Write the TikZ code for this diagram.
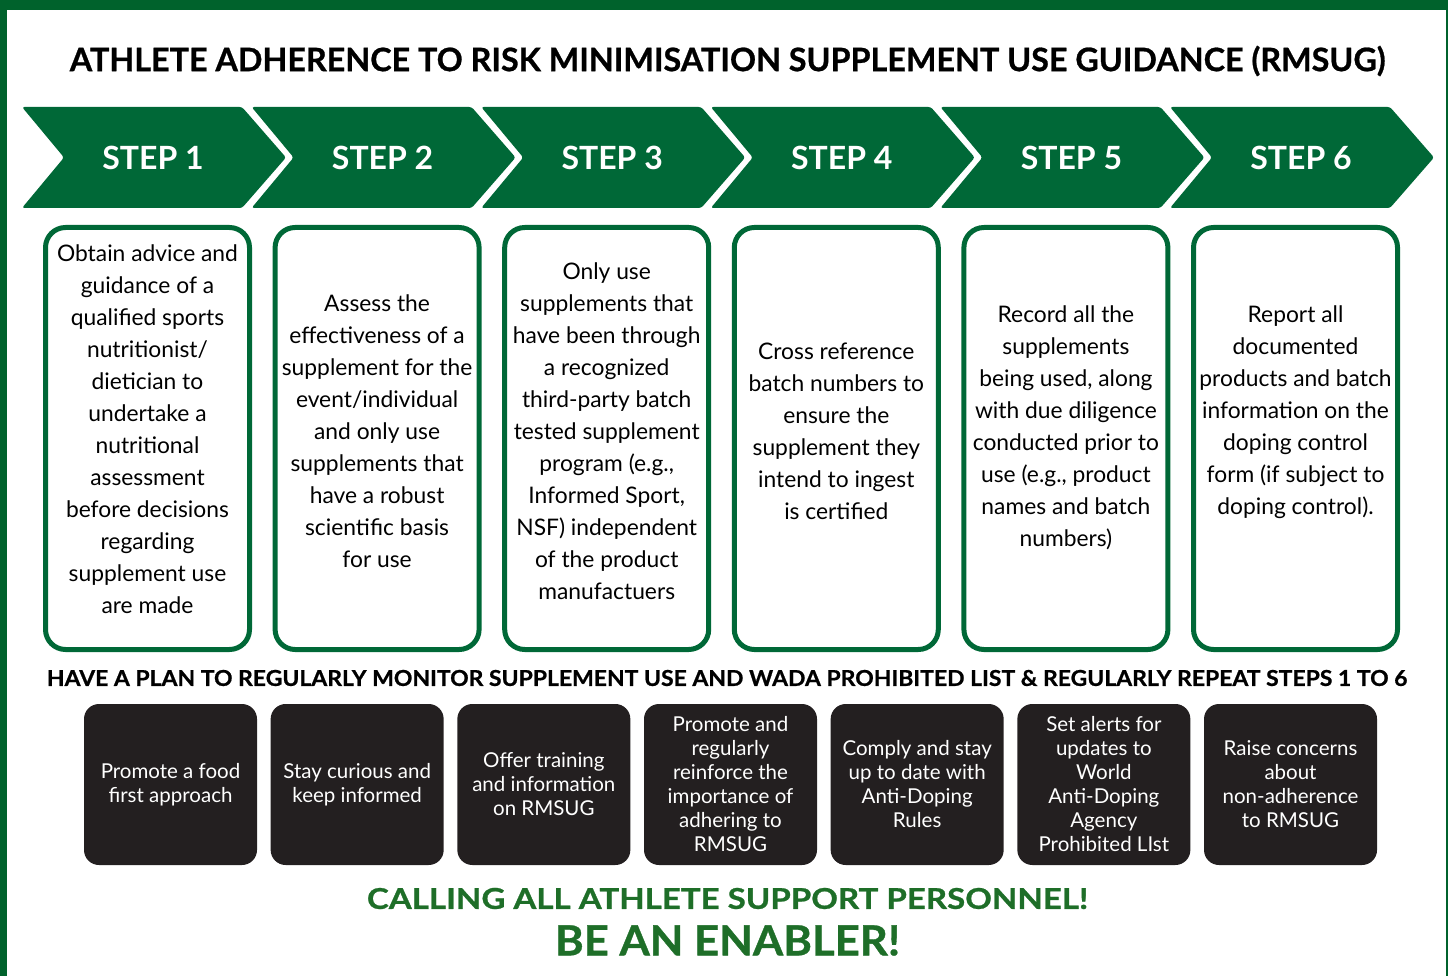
\documentclass[tikz,border=0pt]{standalone}
\usepackage{fontspec}
\setmainfont{Lato}
\newfontfamily\headfont{Lato}[BoldFeatures={FakeBold=0.8}]
\definecolor{stepgreen}{RGB}{0,104,55}
\definecolor{framegreen}{RGB}{0,98,44}
\definecolor{callgreen}{RGB}{30,110,40}
\definecolor{tilefill}{RGB}{35,31,32}
\begin{document}
\begin{tikzpicture}[x=1pt,y=-1pt,
  chevron/.style={fill=stepgreen,rounded corners=2.5pt},
  steplabel/.style={text=white,inner sep=0pt,font=\fontsize{32}{32}\selectfont\bfseries},
  stepbox/.style={draw=stepgreen,line width=5pt,rounded corners=20pt,fill=white,
    minimum width=204pt,minimum height=422pt,inner sep=0pt},
  boxtext/.style={align=center,inner sep=0pt,text=black,
    font=\fontsize{22.8}{32}\selectfont},
  tile/.style={fill=tilefill,rounded corners=15pt,minimum width=173pt,
    minimum height=161pt,inner sep=0pt},
  tiletext/.style={align=center,inner sep=0pt,text=white,
    font=\fontsize{20.5}{24}\selectfont},
  heading/.style={inner sep=0pt,font=\headfont\bfseries}]
\useasboundingbox (0,0) rectangle (1448,976);

% page frame
\fill[framegreen] (0,0) rectangle (1448,10.5);
\fill[framegreen] (0,0) rectangle (7,976);
\fill[framegreen] (1446,0) rectangle (1447.6,976);

% title
\node[heading] (title) at (727.5,61)
  {\resizebox{1315pt}{!}{ATHLETE ADHERENCE TO RISK MINIMISATION SUPPLEMENT USE GUIDANCE (RMSUG)}};

% step chevrons
\foreach \i in {1,...,6}{
  \pgfmathsetmacro\xo{22+229.6*(\i-1)}
  \fill[chevron] (\xo,107) -- ++(220,0) -- ++(44,50.5) -- ++(-44,50.5)
    -- ++(-220,0) -- ++(42,-50.5) -- cycle;
  \node[steplabel] (s\i) at (\xo+131,157.5) {STEP \i};
}

% step boxes
\foreach \i in {1,...,6}{
  \pgfmathsetmacro\xc{147.5+229.6*(\i-1)}
  \node[stepbox] (b\i) at (\xc,438.5) {};
}
\node[boxtext] (t1) at (b1.center |- 0,429) {Obtain advice and\\guidance of a\\qualified sports\\nutritionist/\\dietician to\\undertake a\\nutritional\\assessment\\before decisions\\regarding\\supplement use\\are made};
\node[boxtext] (t2) at (b2.center |- 0,431) {Assess the\\effectiveness of a\\supplement for the\\event/individual\\and only use\\supplements that\\have a robust\\scientific basis\\for use};
\node[boxtext] (t3) at (b3.center |- 0,431) {Only use\\supplements that\\have been through\\a recognized\\third-party batch\\tested supplement\\program (e.g.,\\Informed Sport,\\NSF) independent\\of the product\\manufactuers};
\node[boxtext] (t4) at (b4.center |- 0,431) {Cross reference\\batch numbers to\\ensure the\\supplement they\\intend to ingest\\is certified};
\node[boxtext] (t5) at (b5.center |- 0,428) {Record all the\\supplements\\being used, along\\with due diligence\\conducted prior to\\use (e.g., product\\names and batch\\numbers)};
\node[boxtext] (t6) at (b6.center |- 0,412) {Report all\\documented\\products and batch\\information on the\\doping control\\form (if subject to\\doping control).};

% monitoring heading
\node[heading] (plan) at (727,678)
  {\resizebox{1360pt}{16pt}{HAVE A PLAN TO REGULARLY MONITOR SUPPLEMENT USE AND WADA PROHIBITED LIST \& REGULARLY REPEAT STEPS 1 TO 6}};

% action tiles
\foreach \i in {1,...,7}{
  \pgfmathsetmacro\xc{170.5+186.67*(\i-1)}
  \node[tile] (k\i) at (\xc,784.5) {};
}
\node[tiletext] (a1) at (k1) {Promote a food\\first approach};
\node[tiletext] (a2) at (k2) {Stay curious and\\keep informed};
\node[tiletext] (a3) at (k3) {Offer training\\and information\\on RMSUG};
\node[tiletext] (a4) at (k4) {Promote and\\regularly\\reinforce the\\importance of\\adhering to\\RMSUG};
\node[tiletext] (a5) at (k5) {Comply and stay\\up to date with\\Anti-Doping\\Rules};
\node[tiletext] (a6) at (k6) {Set alerts for\\updates to\\World\\Anti-Doping\\Agency\\Prohibited LIst};
\node[tiletext] (a7) at (k7) {Raise concerns\\about\\non-adherence\\to RMSUG};

% closing call
\node[heading,text=callgreen] (call) at (727.5,898.5)
  {\resizebox{721pt}{21pt}{CALLING ALL ATHLETE SUPPORT PERSONNEL!}};
\node[heading,text=callgreen] (enable) at (727.5,940.5)
  {\resizebox{345pt}{30pt}{BE AN ENABLER!}};
\end{tikzpicture}
\end{document}
